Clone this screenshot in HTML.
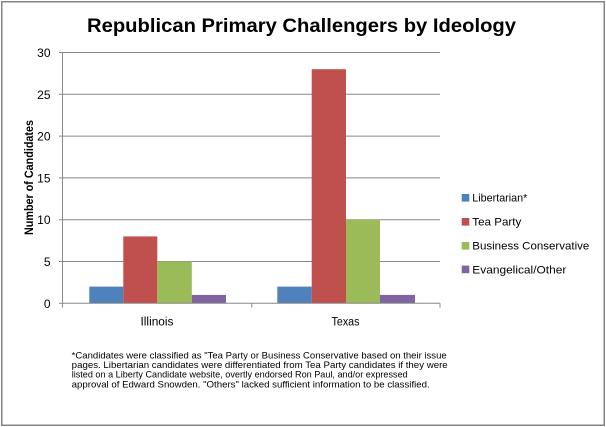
<!DOCTYPE html>
<html>
<head>
<meta charset="utf-8">
<style>
html,body{margin:0;padding:0;background:#fff;}
svg{display:block;}
text{font-family:"Liberation Sans",Arial,sans-serif;fill:#000;}
</style>
</head>
<body>
<svg width="606" height="427" viewBox="0 0 606 427" xmlns="http://www.w3.org/2000/svg">
  <rect x="0" y="0" width="606" height="427" fill="#fff"/>
  <rect x="1.75" y="1.75" width="602.5" height="423.5" fill="none" stroke="#868686" stroke-width="1.5"/>

  <!-- Title -->
  <text x="87" y="32" font-size="19.5" font-weight="bold" textLength="429" lengthAdjust="spacingAndGlyphs">Republican Primary Challengers by Ideology</text>

  <!-- Gridlines -->
  <g stroke="#888" stroke-width="1">
    <line x1="62.5" y1="52.5" x2="440" y2="52.5"/>
    <line x1="62.5" y1="94.3" x2="440" y2="94.3"/>
    <line x1="62.5" y1="136.1" x2="440" y2="136.1"/>
    <line x1="62.5" y1="177.9" x2="440" y2="177.9"/>
    <line x1="62.5" y1="219.7" x2="440" y2="219.7"/>
    <line x1="62.5" y1="261.5" x2="440" y2="261.5"/>
  </g>
  <!-- Y tick marks -->
  <g stroke="#888" stroke-width="1">
    <line x1="59" y1="52.5" x2="62.5" y2="52.5"/>
    <line x1="59" y1="94.3" x2="62.5" y2="94.3"/>
    <line x1="59" y1="136.1" x2="62.5" y2="136.1"/>
    <line x1="59" y1="177.9" x2="62.5" y2="177.9"/>
    <line x1="59" y1="219.7" x2="62.5" y2="219.7"/>
    <line x1="59" y1="261.5" x2="62.5" y2="261.5"/>
    <line x1="59" y1="303.3" x2="62.5" y2="303.3"/>
  </g>

  <!-- Bars Illinois -->
  <rect x="89.3" y="286.6" width="34" height="16.7" fill="#4F81BD"/>
  <rect x="123.3" y="236.4" width="34" height="66.9" fill="#C0504D"/>
  <rect x="157.3" y="261.5" width="34.5" height="41.8" fill="#9BBB59"/>
  <rect x="191.8" y="294.9" width="34.2" height="8.4" fill="#8064A2"/>

  <!-- Bars Texas -->
  <rect x="277.3" y="286.6" width="34.4" height="16.7" fill="#4F81BD"/>
  <rect x="311.7" y="69.2" width="34.3" height="234.1" fill="#C0504D"/>
  <rect x="346" y="219.7" width="34" height="83.6" fill="#9BBB59"/>
  <rect x="380" y="294.9" width="35" height="8.4" fill="#8064A2"/>

  <!-- Axes -->
  <g stroke="#888" stroke-width="1">
    <line x1="62.5" y1="52.5" x2="62.5" y2="303.3"/>
    <line x1="62.5" y1="303.3" x2="440" y2="303.3"/>
    <line x1="62.5" y1="303.3" x2="62.5" y2="307.5"/>
    <line x1="251.7" y1="303.3" x2="251.7" y2="307.5"/>
    <line x1="440" y1="303.3" x2="440" y2="307.5"/>
  </g>

  <!-- Y labels -->
  <g font-size="12" text-anchor="end" fill="#222">
    <text x="50.5" y="57">30</text>
    <text x="50.5" y="98.8">25</text>
    <text x="50.5" y="140.6">20</text>
    <text x="50.5" y="182.4">15</text>
    <text x="50.5" y="224.2">10</text>
    <text x="50.5" y="266">5</text>
    <text x="50.5" y="307.8">0</text>
  </g>

  <!-- Y axis title -->
  <text transform="translate(33,177.5) rotate(-90)" text-anchor="middle" font-size="11.5" font-weight="bold" textLength="115" lengthAdjust="spacingAndGlyphs">Number of Candidates</text>

  <!-- X labels -->
  <text x="157" y="325.5" font-size="11.5" text-anchor="middle" textLength="33" lengthAdjust="spacingAndGlyphs">Illinois</text>
  <text x="345.5" y="325.5" font-size="11.5" text-anchor="middle" textLength="28" lengthAdjust="spacingAndGlyphs">Texas</text>

  <!-- Legend -->
  <rect x="461.7" y="194" width="7.6" height="7.6" fill="#4F81BD"/>
  <text x="472.3" y="201.7" font-size="11" textLength="55" lengthAdjust="spacingAndGlyphs">Libertarian*</text>
  <rect x="461.7" y="218" width="7.6" height="7.6" fill="#C0504D"/>
  <text x="472.3" y="225.7" font-size="11" textLength="49" lengthAdjust="spacingAndGlyphs">Tea Party</text>
  <rect x="461.7" y="242" width="7.6" height="7.6" fill="#9BBB59"/>
  <text x="472.3" y="249.7" font-size="11" textLength="117" lengthAdjust="spacingAndGlyphs">Business Conservative</text>
  <rect x="461.7" y="265.6" width="7.6" height="7.6" fill="#8064A2"/>
  <text x="472.3" y="273.3" font-size="11" textLength="94" lengthAdjust="spacingAndGlyphs">Evangelical/Other</text>

  <!-- Footnote -->
  <g font-size="9.3" fill="#111">
    <text x="71.7" y="358.3" textLength="375" lengthAdjust="spacingAndGlyphs">*Candidates were classified as "Tea Party or Business Conservative based on their issue</text>
    <text x="71.7" y="368" textLength="376" lengthAdjust="spacingAndGlyphs">pages. Libertarian candidates were differentiated from Tea Party candidates if they were</text>
    <text x="71.7" y="377.7" textLength="336" lengthAdjust="spacingAndGlyphs">listed on a Liberty Candidate website, overtly endorsed Ron Paul, and/or expressed</text>
    <text x="71.7" y="387.4" textLength="358" lengthAdjust="spacingAndGlyphs">approval of Edward Snowden. "Others" lacked sufficient information to be classified.</text>
  </g>
</svg>
</body>
</html>
